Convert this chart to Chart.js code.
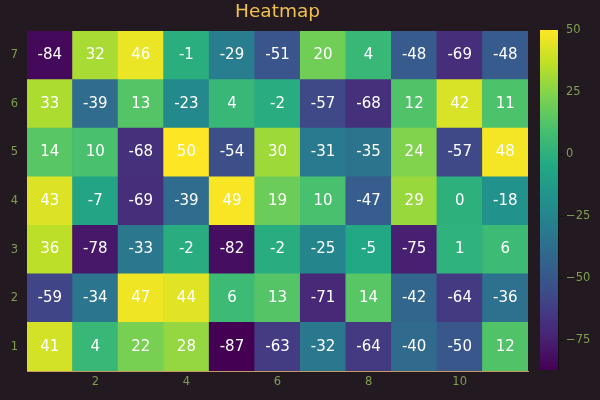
<!DOCTYPE html>
<html><head><meta charset="utf-8">
<script src="https://cdn.jsdelivr.net/npm/chart.js@4"></script>
<style>
html,body{margin:0;padding:0;background:#231920;}
#wrap{position:relative;width:600px;height:400px;}
canvas{position:absolute;left:0;top:0;}
</style>
</head><body>
<div id="wrap"><canvas id="hm" width="600" height="400"></canvas><canvas id="cb" width="600" height="400"></canvas></div>
<script>
// ---- data ----
const xLabels = ['1','2','3','4','5','6','7','8','9','10','11'];
const yTicks = [1,2,3,4,5,6,7];
const xTickShown = [2,4,6,8,10];
const row1 = [41, 4, 22, 28, -87, -63, -32, -64, -40, -50, 12];
const row2 = [-59, -34, 47, 44, 6, 13, -71, 14, -42, -64, -36];
const row3 = [36, -78, -33, -2, -82, -2, -25, -5, -75, 1, 6];
const row4 = [43, -7, -69, -39, 49, 19, 10, -47, 29, 0, -18];
const row5 = [14, 10, -68, 50, -54, 30, -31, -35, 24, -57, 48];
const row6 = [33, -39, 13, -23, 4, -2, -57, -68, 12, 42, 11];
const row7 = [-84, 32, 46, -1, -29, -51, 20, 4, -48, -69, -48];
const rows = [row1,row2,row3,row4,row5,row6,row7];
const vmin = -87, vmax = 50;
const cbTicks = [-75,-50,-25,0,25,50];

// ---- colormap ----
const VIR = ['#440154','#482475','#414487','#355f8d','#2a788e','#21918c','#22a884','#44bf70','#7ad151','#bddf26','#fde725'];
function hex(h){return [parseInt(h.slice(1,3),16),parseInt(h.slice(3,5),16),parseInt(h.slice(5,7),16)];}
function viridis(t){
  t = Math.max(0, Math.min(1, t));
  const p = t*(VIR.length-1), i = Math.min(Math.floor(p), VIR.length-2), f = p-i;
  const a = hex(VIR[i]), b = hex(VIR[i+1]);
  return 'rgb('+a.map((v,k)=>Math.round(v+(b[k]-v)*f)).join(',')+')';
}
const norm = v => (v - vmin)/(vmax - vmin);

const FONT = 'DejaVu Sans';
const TICKCOL = '#7f9f4f';
const SPINE = '#c49a62';

const cellText = {
  id:'cellText',
  afterDatasetsDraw(chart){
    const ctx = chart.ctx;
    ctx.save();
    ctx.fillStyle = '#ffffff';
    ctx.font = '15px "'+FONT+'"';
    ctx.textAlign = 'center';
    ctx.textBaseline = 'middle';
    chart.data.datasets.forEach((ds, di) => {
      const meta = chart.getDatasetMeta(di);
      meta.data.forEach((el, j) => {
        ctx.fillText(String(rows[di][j]), el.x, (el.y + el.base)/2);
      });
    });
    ctx.restore();
  }
};

new Chart(document.getElementById('hm'), {
  type:'bar',
  data:{
    labels:xLabels,
    datasets: rows.map((r,i)=>({
      label:'row '+(i+1),
      data:r.map(()=>[i+0.5, i+1.5]),
      backgroundColor:r.map(v=>viridis(norm(v))),
      borderWidth:0,
      grouped:false,
      barPercentage:1,
      categoryPercentage:1
    }))
  },
  options:{
    responsive:false, animation:false, devicePixelRatio:1,
    layout:{padding:{left:0,right:72,top:0,bottom:0}},
    plugins:{
      legend:{display:false}, tooltip:{enabled:false},
      title:{display:true, text:'Heatmap', fullSize:false, color:'#f0c050',
        font:{family:FONT, size:18.5, weight:'normal'}, padding:{top:1,bottom:7.8}}
    },
    scales:{
      x:{type:'category', grid:{display:false, drawTicks:false},
        border:{display:true, color:SPINE, width:1},
        afterFit(s){s.height = 29;},
        ticks:{autoSkip:false, maxRotation:0, padding:4, color:TICKCOL, font:{family:FONT,size:11.5},
          callback:(v,idx)=> xTickShown.includes(idx+1) ? xLabels[idx] : ''}},
      y:{type:'linear', min:0.5, max:7.5, grid:{display:false, drawTicks:false},
        border:{display:true, color:SPINE, width:1},
        afterFit(s){s.width = 27;},
        afterBuildTicks(s){s.ticks = yTicks.map(v=>({value:v}));},
        ticks:{padding:9, color:TICKCOL, font:{family:FONT,size:11.5}}}
    }
  },
  plugins:[cellText]
});

// ---- colorbar: each strip spans from its level to the top, later strips paint over earlier ones ----
const segs = [];
for (let v = vmin; v < vmax; v += 0.5) segs.push(v);
new Chart(document.getElementById('cb'), {
  type:'bar',
  data:{
    labels:['cb'],
    datasets:[{
      data:segs.map(s=>({x:'cb', y:[s, vmax]})),
      backgroundColor:segs.map(s=>viridis(norm(s+0.25))),
      borderWidth:0, grouped:false, barPercentage:1, categoryPercentage:1, inflateAmount:0
    }]
  },
  options:{
    responsive:false, animation:false, devicePixelRatio:1,
    layout:{padding:{left:540,right:0,top:30,bottom:30}},
    plugins:{legend:{display:false}, tooltip:{enabled:false}, title:{display:false}},
    scales:{
      x:{display:false},
      y:{type:'linear', position:'right', min:vmin, max:vmax,
        afterFit(s){s.width = 42;},
        afterBuildTicks(s){s.ticks = cbTicks.map(v=>({value:v}));},
        grid:{display:true, drawOnChartArea:false, drawTicks:true, tickLength:5, color:'#111111'},
        border:{display:true, color:'#111111'},
        ticks:{padding:3, color:TICKCOL, font:{family:FONT,size:11.5},
          callback:v=> v<0 ? '\u2212'+Math.abs(v) : String(v)}}
    }
  }
});
</script>
</body></html>
